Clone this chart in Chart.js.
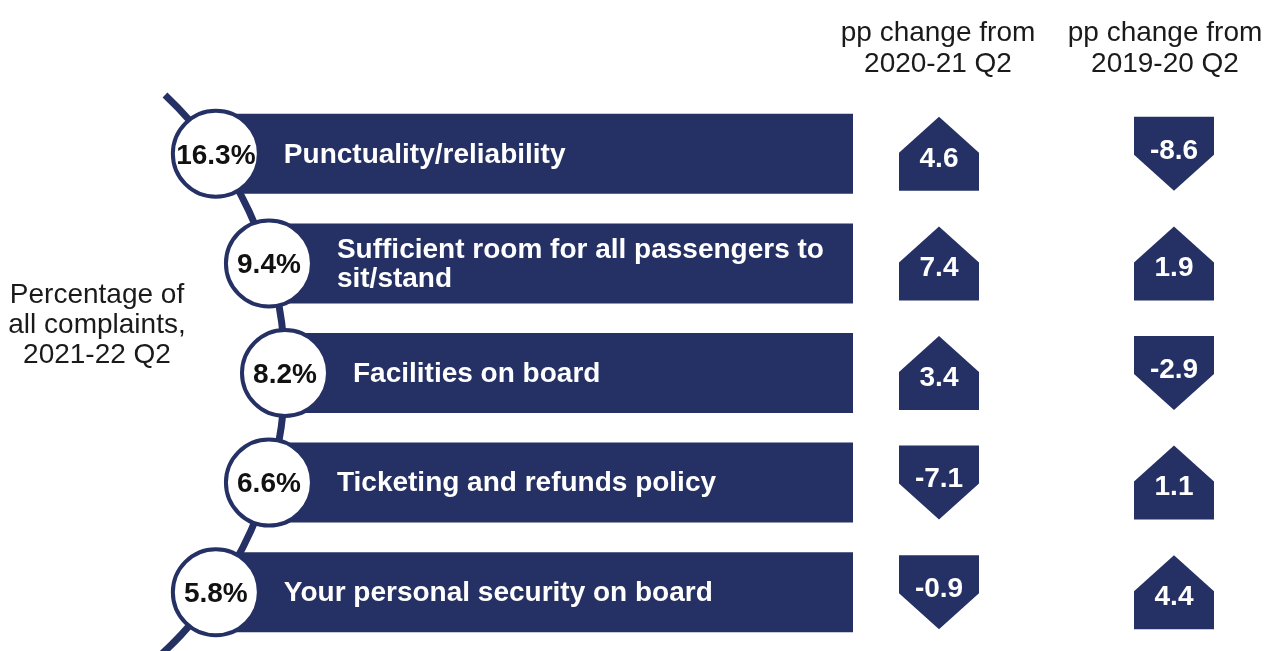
<!DOCTYPE html>
<html>
<head>
<meta charset="utf-8">
<script src="https://cdn.jsdelivr.net/npm/chart.js@4.4.1/dist/chart.umd.min.js"></script>
<style>
  html, body { margin: 0; padding: 0; background: #fff; }
  #wrap { position: relative; width: 1274px; height: 651px; }
</style>
</head>
<body>
<div id="wrap"><canvas id="complaintsCanvas"></canvas></div>
<script>
// Dados do gráfico
const categories = [
  ['Punctuality/reliability'],
  ['Sufficient room for all passengers to', 'sit/stand'],
  ['Facilities on board'],
  ['Ticketing and refunds policy'],
  ['Your personal security on board']
];
const shares = [16.3, 9.4, 8.2, 6.6, 5.8];
const changeFrom2020 = [4.6, 7.4, 3.4, -7.1, -0.9];
const changeFrom2019 = [-8.6, 1.9, -2.9, 1.1, 4.4];
const columnTitles = [['pp change from', '2020-21 Q2'], ['pp change from', '2019-20 Q2']];
const sideTitle = ['Percentage of', 'all complaints,', '2021-22 Q2'];

const NAVY = '#253165';
const FONT = '"Liberation Sans", Arial, Helvetica, sans-serif';
const ARC_RADIUS = 382;
const ARC_PEAK_X = 285;
const CIRCLE_R = 43;
const COLUMN_X = [939, 1174];

// x do arco para uma dada altura
function arcX(y, cy) {
  const dy = y - cy;
  return ARC_PEAK_X - ARC_RADIUS + Math.sqrt(ARC_RADIUS * ARC_RADIUS - dy * dy);
}

function drawArrow(ctx, x, y, value) {
  const w = 80, h = 74, roof = 36;
  const l = x - w / 2, r = x + w / 2, t = y - h / 2, b = y + h / 2;
  ctx.beginPath();
  if (value >= 0) {
    ctx.moveTo(l, b); ctx.lineTo(l, t + roof); ctx.lineTo(x, t);
    ctx.lineTo(r, t + roof); ctx.lineTo(r, b);
  } else {
    ctx.moveTo(l, t); ctx.lineTo(r, t); ctx.lineTo(r, b - roof);
    ctx.lineTo(x, b); ctx.lineTo(l, b - roof);
  }
  ctx.closePath();
  ctx.fillStyle = NAVY;
  ctx.fill();
  ctx.fillStyle = '#fff';
  ctx.font = 'bold 28px ' + FONT;
  ctx.textAlign = 'center';
  ctx.textBaseline = 'middle';
  ctx.fillText(value.toFixed(1), x, value >= 0 ? y + 5 : y - 3);
}

const infographicPlugin = {
  id: 'infographic',
  beforeDatasetsDraw(chart) {
    const ctx = chart.ctx;
    const meta = chart.getDatasetMeta(0);
    const cy = chart.scales.y.getPixelForValue(2);
    // barras começam no arco
    meta.data.forEach(bar => { bar.base = arcX(bar.y, cy); });

    // linha do arco
    const a0 = Math.asin((cy - 95) / ARC_RADIUS);
    const a1 = Math.asin(Math.min(1, (chart.height + 10 - cy) / ARC_RADIUS));
    ctx.save();
    ctx.strokeStyle = NAVY;
    ctx.lineWidth = 7;
    ctx.beginPath();
    ctx.arc(ARC_PEAK_X - ARC_RADIUS, cy, ARC_RADIUS, -a0, a1);
    ctx.stroke();
    ctx.restore();
  },
  afterDatasetsDraw(chart) {
    const ctx = chart.ctx;
    const meta = chart.getDatasetMeta(0);
    const cy = chart.scales.y.getPixelForValue(2);
    ctx.save();

    meta.data.forEach((bar, i) => {
      const cx = arcX(bar.y, cy);
      // círculo com a percentagem
      ctx.beginPath();
      ctx.arc(cx, bar.y, CIRCLE_R, 0, Math.PI * 2);
      ctx.fillStyle = '#fff';
      ctx.fill();
      ctx.lineWidth = 4;
      ctx.strokeStyle = NAVY;
      ctx.stroke();
      ctx.fillStyle = '#111';
      ctx.font = 'bold 28px ' + FONT;
      ctx.textAlign = 'center';
      ctx.textBaseline = 'middle';
      ctx.fillText(shares[i].toFixed(1) + '%', cx, bar.y + 2);

      // rótulo da categoria
      const lines = categories[i];
      const lh = 29;
      ctx.fillStyle = '#fff';
      ctx.textAlign = 'left';
      lines.forEach((line, k) => {
        const ly = bar.y + 1 - (lines.length - 1) * lh / 2 + k * lh;
        ctx.fillText(line, cx + CIRCLE_R + 25, ly);
      });

      // setas de variação
      drawArrow(ctx, COLUMN_X[0], bar.y, changeFrom2020[i]);
      drawArrow(ctx, COLUMN_X[1], bar.y, changeFrom2019[i]);
    });

    // títulos
    ctx.fillStyle = '#1a1a1a';
    ctx.font = '28px ' + FONT;
    ctx.textAlign = 'center';
    ctx.textBaseline = 'alphabetic';
    const titleX = [938, 1165];
    columnTitles.forEach((title, c) => {
      title.forEach((line, k) => ctx.fillText(line, titleX[c], 41 + k * 31));
    });
    sideTitle.forEach((line, k) => ctx.fillText(line, 97, 303 + k * 30));
    ctx.restore();
  }
};

document.addEventListener('DOMContentLoaded', function() {
  const ctx = document.getElementById('complaintsCanvas').getContext('2d');
  new Chart(ctx, {
    type: 'bar',
    data: {
      labels: categories,
      datasets: [{
        data: categories.map(() => 1),
        backgroundColor: NAVY,
        borderWidth: 0,
        barPercentage: 0.73,
        categoryPercentage: 1
      }]
    },
    options: {
      indexAxis: 'y',
      responsive: true,
      maintainAspectRatio: false,
      animation: false,
      layout: { padding: { top: 99, bottom: 4, left: 0, right: 421 } },
      plugins: {
        legend: { display: false },
        tooltip: { enabled: false }
      },
      scales: {
        x: { display: false, min: 0, max: 1 },
        y: { display: false }
      }
    },
    plugins: [infographicPlugin]
  });
});
</script>
</body>
</html>
